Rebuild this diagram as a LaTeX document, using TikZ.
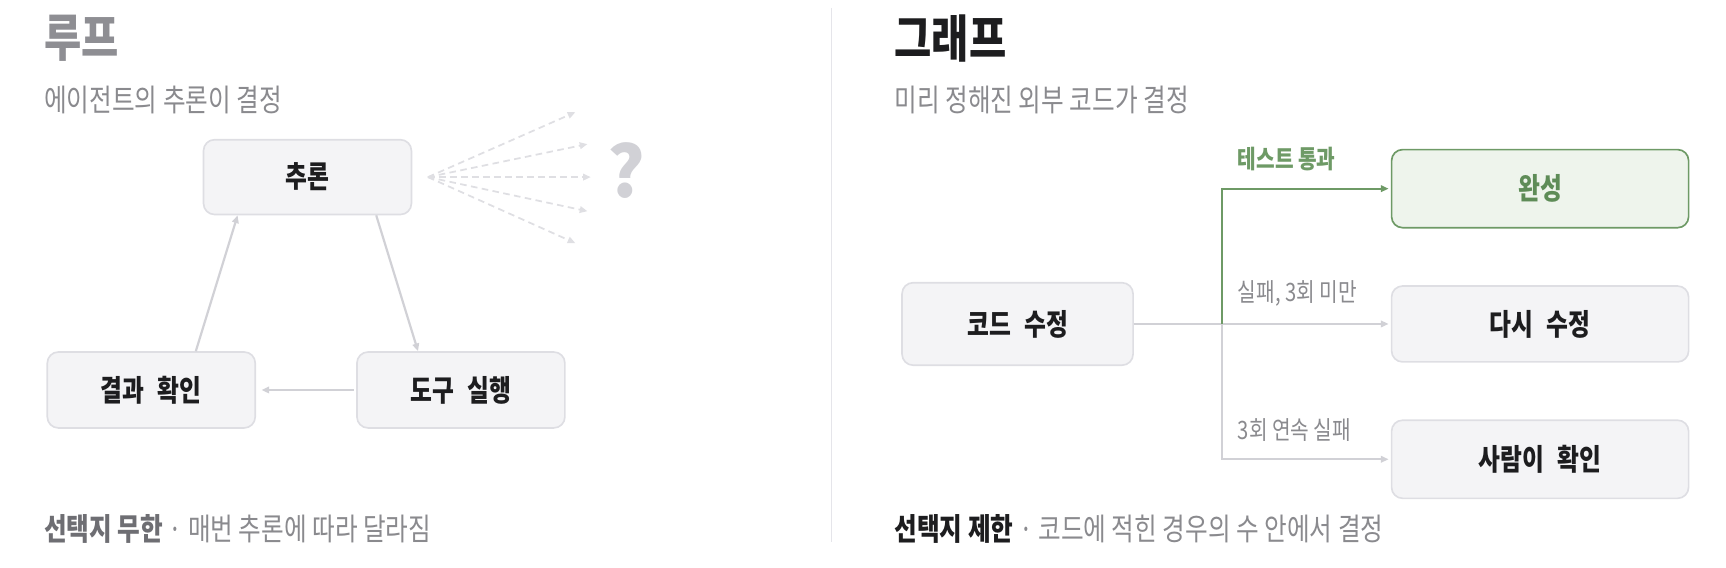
\documentclass[tikz,border=0pt]{standalone}
\usepackage{fontspec}
\setmainfont[FakeStretch=0.8]{Noto Sans CJK KR}
\newfontfamily\plainfont{Noto Sans CJK KR}
\usepackage{tikz}
\usetikzlibrary{arrows.meta}

\definecolor{ink}{HTML}{1D1D1F}
\definecolor{titlegray}{HTML}{8E8E93}
\definecolor{subgray}{HTML}{8A8A8E}
\definecolor{notegray}{HTML}{6E6E73}
\definecolor{boxfill}{HTML}{F4F4F6}
\definecolor{boxline}{HTML}{DEDEE3}
\definecolor{flowgray}{HTML}{D1D1D6}
\definecolor{fangray}{HTML}{DFDFE3}
\definecolor{rulegray}{HTML}{E5E5EA}
\definecolor{donefill}{HTML}{EEF4EC}
\definecolor{doneline}{HTML}{6E9A66}
\definecolor{donetext}{HTML}{5E8C57}

\begin{document}
\begin{tikzpicture}[x=1pt,y=-1pt]
        \tikzstyle{every node} = [inner sep=0pt]
        \tikzstyle{box} = [draw=boxline, fill=boxfill, line width=1.5pt, rounded corners=10pt,
            text=ink, font=\fontsize{27}{32}\selectfont\bfseries]
        \tikzstyle{done} = [draw=doneline, fill=donefill, text=donetext]
        \tikzstyle{title} = [anchor=west, font=\fontsize{46}{54}\selectfont\bfseries]
        \tikzstyle{sub} = [anchor=west, text=subgray, font=\fontsize{28}{33}\selectfont]
        \tikzstyle{note} = [anchor=west, text=subgray, font=\fontsize{28}{33}\selectfont]
        \tikzstyle{tag} = [anchor=west, text=subgray, font=\fontsize{23}{27}\selectfont]
        \tikzstyle{flow} = [draw=flowgray, line width=2pt, -{Triangle[length=7pt,width=6pt]}]
        \tikzstyle{fan} = [draw=fangray, line width=1.6pt, dashed, dash pattern=on 6pt off 4pt,
            -{Triangle[length=7pt,width=6pt]}]
        \tikzstyle{link} = [draw=flowgray, line width=1.6pt, -{Triangle[length=7pt,width=6pt]}]
        \tikzstyle{pass} = [draw=doneline, line width=1.6pt, -{Triangle[length=7pt,width=6pt]}]

        \useasboundingbox (0,0) rectangle (1569,515.5);

        % loop side
        \node[title, text=titlegray] (looptitle) at (40,35) {루프};
        \node[sub] (loopsub) at (40,91) {에이전트의 추론이 결정};
        \node[box, minimum width=189, minimum height=68] (reason) at (279.5,161) {추론};
        \node[box, minimum width=189, minimum height=69] (check) at (137.5,354.5) {결과\hspace{12pt}확인};
        \node[box, minimum width=189, minimum height=69] (tool) at (419,354.5) {도구\hspace{12pt}실행};
        \draw[flow] ([xshift=62.5pt]reason.south) -- ([xshift=-39pt]tool.north);
        \draw[flow, shorten >=5pt] ([xshift=-2pt]tool.west) -- (check.east);
        \draw[flow] ([xshift=40.5pt]check.north) -- ([xshift=-63.5pt]reason.south);

        \coordinate (fan) at (389,161);
        \coordinate (f1) at (523,102);
        \coordinate (f2) at (534,131);
        \coordinate (f3) at (537,161);
        \coordinate (f4) at (534,192);
        \coordinate (f5) at (523,221);
        \foreach \to in {f1, f2, f3, f4, f5}
            \draw[fan] (fan) -- (\to);
        \node[text=flowgray, font=\plainfont\fontsize{64}{64}\selectfont\bfseries] (unknown) at (569,155) {?};

        \node[note] (loopnote) at (40,481) {{\color{notegray}\bfseries 선택지 무한} · 매번 추론에 따라 달라짐};

        % divider
        \coordinate (dtop) at (756,7);
        \coordinate (dbot) at (756,493);
        \draw[rulegray, line width=1.5pt] (dtop) -- (dbot);

        % graph side
        \node[title, text=ink] (graphtitle) at (813,35) {그래프};
        \node[sub] (graphsub) at (813,91) {미리 정해진 외부 코드가 결정};
        \node[box, minimum width=210, minimum height=75] (edit) at (925,294.5) {코드\hspace{12pt}수정};
        \node[box, done, minimum width=270, minimum height=71] (finish) at (1400,171.5) {완성};
        \node[box, minimum width=270, minimum height=69] (retry) at (1400,294.5) {다시\hspace{12pt}수정};
        \node[box, minimum width=270, minimum height=71] (human) at (1400,417.5) {사람이\hspace{12pt}확인};

        \coordinate (split) at (1111,294.5);
        \draw[link, shorten >=2pt] (edit) -- (retry);
        \draw[link, shorten >=2pt] (split) |- (human);
        \draw[pass, shorten >=2pt] (split) |- (finish);

        \node[tag, text=doneline, font=\fontsize{23}{27}\selectfont\bfseries] (passtag) at (1125,145) {테스트 통과};
        \node[tag] (retrytag) at (1125,267) {실패, 3회 미만};
        \node[tag] (humantag) at (1125,391) {3회 연속 실패};

        \node[note] (graphnote) at (813,481) {{\color{ink}\bfseries 선택지 제한} · 코드에 적힌 경우의 수 안에서 결정};
    \end{tikzpicture}
\end{document}
